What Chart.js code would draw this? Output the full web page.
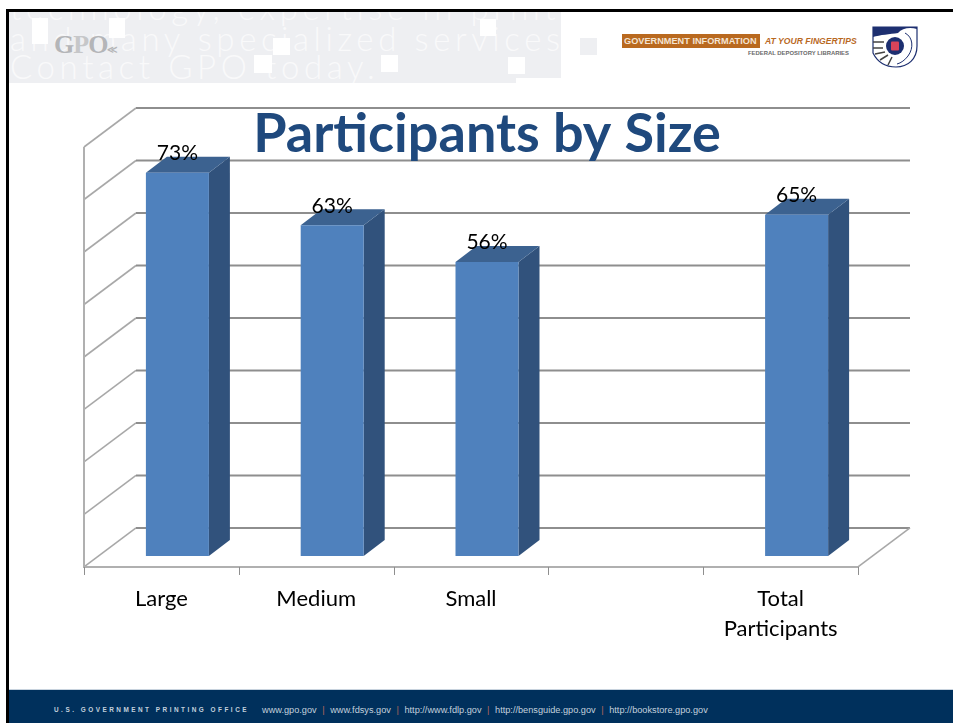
<!DOCTYPE html>
<html><head><meta charset="utf-8">
<style>
html,body{margin:0;padding:0;background:#fff;width:953px;height:723px;overflow:hidden;font-family:Lato,sans-serif}
#frame{position:absolute;left:6px;top:9px;width:947px;height:714px;border-left:3px solid #000;border-top:3px solid #000;box-sizing:border-box}
#band{position:absolute;left:9px;top:12px;width:552px;height:71px;overflow:hidden;background:#eeeff2}
#band2{position:absolute;left:580px;top:38px;width:17px;height:17px;background:#eeeff2}
.g{position:absolute;left:1px;color:#f9f9fa;font:300 33px/34px Lato,sans-serif;letter-spacing:4.6px;white-space:nowrap}
.sq{position:absolute;background:#fff}
#gpo{position:absolute;left:54px;top:30px;font:bold 26px/30px "Liberation Serif",serif;color:#b4b5b8;letter-spacing:-1px}
#bn{position:absolute;left:622px;top:34px;width:236px;height:14px;display:flex;font:bold 9.2px/14px "Liberation Sans",sans-serif;white-space:nowrap}
#bn b{background:#b9691f;color:#f4e4d2;padding-left:2px;width:138px;box-sizing:border-box;overflow:hidden}
#bn i{color:#b9691f;padding-left:5px;font-size:8.6px}
#fd{position:absolute;left:748px;top:49px;font:bold 5.9px/8px "Liberation Sans",sans-serif;color:#6a6a6a;white-space:nowrap}
#em{position:absolute;left:872px;top:26px}
#foot{position:absolute;left:9px;top:689px;width:944px;height:34px;background:#00305c;border-top:1px solid #c8d3de;box-sizing:border-box}
#foot span{position:absolute;top:14px;font:9.2px/12px "Liberation Sans",sans-serif;color:#c3d0dc;white-space:nowrap}
#foot u{text-decoration:none;color:#b8675a;padding:0 3px}
#c{position:absolute;left:0;top:0}
</style></head><body>
<div id="frame"></div>
<div id="band">
<div class="g" style="top:-22px">technology, expertise in print</div>
<div class="g" style="top:9px">and many specialized services.</div>
<div class="g" style="top:37px">Contact GPO today.</div>
<div class="sq" style="left:23px;top:6px;width:16px;height:26px"></div>
<div class="sq" style="left:100px;top:6px;width:16px;height:20px"></div>
<div class="sq" style="left:264px;top:26px;width:17px;height:17px"></div>
<div class="sq" style="left:245px;top:43px;width:18px;height:18px"></div>
<div class="sq" style="left:372px;top:43px;width:17px;height:17px"></div>
<div class="sq" style="left:471px;top:7px;width:16px;height:17px"></div>
<div class="sq" style="left:499px;top:45px;width:17px;height:17px"></div>
<div class="sq" style="left:507px;top:66px;width:45px;height:5px"></div>
</div>
<div id="band2"></div>
<div id="gpo">G<span style="color:#c6c7c9">P</span>O<span style="font-size:10px">≪</span></div>
<div id="bn"><b>GOVERNMENT INFORMATION</b><i>AT YOUR FINGERTIPS</i></div>
<div id="fd">FEDERAL DEPOSITORY LIBRARIES</div>
<svg id="em" width="46" height="43" viewBox="0 0 46 43">
<path d="M1 1H45V20C45 33 36 41 24 41C14 41 6 37 1 27Z" fill="#fff" stroke="#1d2f70" stroke-width="1.2"/>
<path d="M1 1H45V3C38 1 30 2 26 7C18 8 8 9 1 11Z" fill="#1d2f70"/>
<path d="M33 7C41 11 42 22 36 30C33 34 29 37 25 38" fill="none" stroke="#1d2f70" stroke-width="1"/>
<path d="M1 16H12M1 22H11M3 28L13 26M8 34L16 29M16 39L20 31" stroke="#444" stroke-width="1.5" fill="none"/>
<circle cx="23" cy="20" r="9" fill="#1d2f70"/>
<rect x="19" y="15.5" width="8" height="9" rx="1" fill="#d8445a"/>
</svg>
<div id="foot">
<span style="left:45px;letter-spacing:2.5px;font-size:6.4px;font-weight:bold">U.S. GOVERNMENT PRINTING OFFICE</span>
<span style="left:253px">www.gpo.gov <u>|</u> www.fdsys.gov <u>|</u> http://www.fdlp.gov <u>|</u> http://bensguide.gpo.gov <u>|</u> http://bookstore.gpo.gov</span>
</div>
<canvas id="c" width="953" height="723"></canvas>
<script src="https://cdn.jsdelivr.net/npm/chart.js@4"></script>
<script>
const categories = ['Large', 'Medium', 'Small', '', ['Total', 'Participants']];
const values = [73, 63, 56, null, 65];
const gridValues = [0, 10, 20, 30, 40, 50, 60, 70, 80];
const titleText = 'Participants by Size';

const frontFace = '#4f81bd', sideFace = '#31527c', topFace = '#3c6290';
const floorDrop = 11, wallDX = 52, wallDY = 39, barDX = 21, barDY = 16, barShift = 16;

const threeD = {
  id: 'threeD',
  beforeDraw(chart) {
    const {ctx, scales: {x, y}} = chart;
    const left = x.left - barShift, right = x.right - barShift;
    ctx.save();
    gridValues.forEach(v => {
      const p = y.getPixelForValue(v) + floorDrop;
      ctx.strokeStyle = '#a8a8a8'; ctx.lineWidth = 1.6;
      ctx.beginPath(); ctx.moveTo(left, p); ctx.lineTo(left + wallDX, p - wallDY); ctx.stroke();
      ctx.strokeStyle = '#8e8e8e'; ctx.lineWidth = 2;
      ctx.beginPath(); ctx.moveTo(left + wallDX, p - wallDY); ctx.lineTo(right + wallDX, p - wallDY); ctx.stroke();
    });
    const base = y.getPixelForValue(0) + floorDrop, top = y.getPixelForValue(80) + floorDrop;
    ctx.strokeStyle = '#b0b0b0'; ctx.lineWidth = 2;
    ctx.beginPath(); ctx.moveTo(left, top); ctx.lineTo(left, base); ctx.lineTo(right, base); ctx.stroke();
    ctx.strokeStyle = '#a8a8a8'; ctx.lineWidth = 1.6;
    ctx.beginPath(); ctx.moveTo(right, base); ctx.lineTo(right + wallDX, base - wallDY); ctx.stroke();
    ctx.strokeStyle = '#8e8e8e'; ctx.lineWidth = 1;
    const step = (x.right - x.left) / categories.length;
    categories.concat(['']).forEach((_, i) => {
      const tx = Math.round(left + step * i) + .5;
      ctx.beginPath(); ctx.moveTo(tx, base); ctx.lineTo(tx, base + 8); ctx.stroke();
    });
    ctx.restore();
  },
  beforeDatasetsDraw(chart) {
    const {ctx} = chart;
    ctx.save();
    chart.getDatasetMeta(0).data.forEach((b, i) => {
      if (values[i] == null) return;
      const l = b.x - b.width / 2, r = b.x + b.width / 2;
      ctx.fillStyle = sideFace;
      ctx.beginPath(); ctx.moveTo(r, b.y); ctx.lineTo(r + barDX, b.y - barDY); ctx.lineTo(r + barDX, b.base - barDY); ctx.lineTo(r, b.base); ctx.closePath(); ctx.fill();
      ctx.fillStyle = topFace;
      ctx.beginPath(); ctx.moveTo(l, b.y); ctx.lineTo(l + barDX, b.y - barDY); ctx.lineTo(r + barDX, b.y - barDY); ctx.lineTo(r, b.y); ctx.closePath(); ctx.fill();
    });
    ctx.restore();
  },
  afterDatasetsDraw(chart) {
    const {ctx} = chart;
    ctx.save();
    ctx.font = '21px Lato'; ctx.fillStyle = '#000'; ctx.textAlign = 'center'; ctx.textBaseline = 'middle';
    chart.getDatasetMeta(0).data.forEach((b, i) => {
      if (values[i] == null) return;
      ctx.fillText(values[i] + '%', b.x, b.y - 19.5);
    });
    ctx.restore();
  }
};

new Chart(document.getElementById('c'), {
  type: 'bar',
  data: {labels: categories, datasets: [{data: values, backgroundColor: frontFace, barPercentage: 0.407, categoryPercentage: 1, borderWidth: 0}]},
  options: {
    responsive: false, animation: false,
    layout: {padding: {left: 100, right: 79, top: 100, bottom: 0}},
    plugins: {
      legend: {display: false}, tooltip: {enabled: false},
      title: {display: true, text: titleText, color: '#1f497d', font: {family: 'Lato', size: 54, weight: 'bold', lineHeight: 1.2}, padding: {top: 2.6, bottom: -31.4}}
    },
    scales: {
      x: {
        grid: {display: false}, border: {display: false},
        ticks: {color: '#000', font: {family: 'Lato', size: 22, lineHeight: 1.364}, labelOffset: -16, maxRotation: 0, minRotation: 0, autoSkip: false, padding: 9},
        afterFit(s) { s.height = 156; }
      },
      y: {display: false, min: -2.1, max: 80}
    }
  },
  plugins: [threeD]
});
</script>
</body></html>
